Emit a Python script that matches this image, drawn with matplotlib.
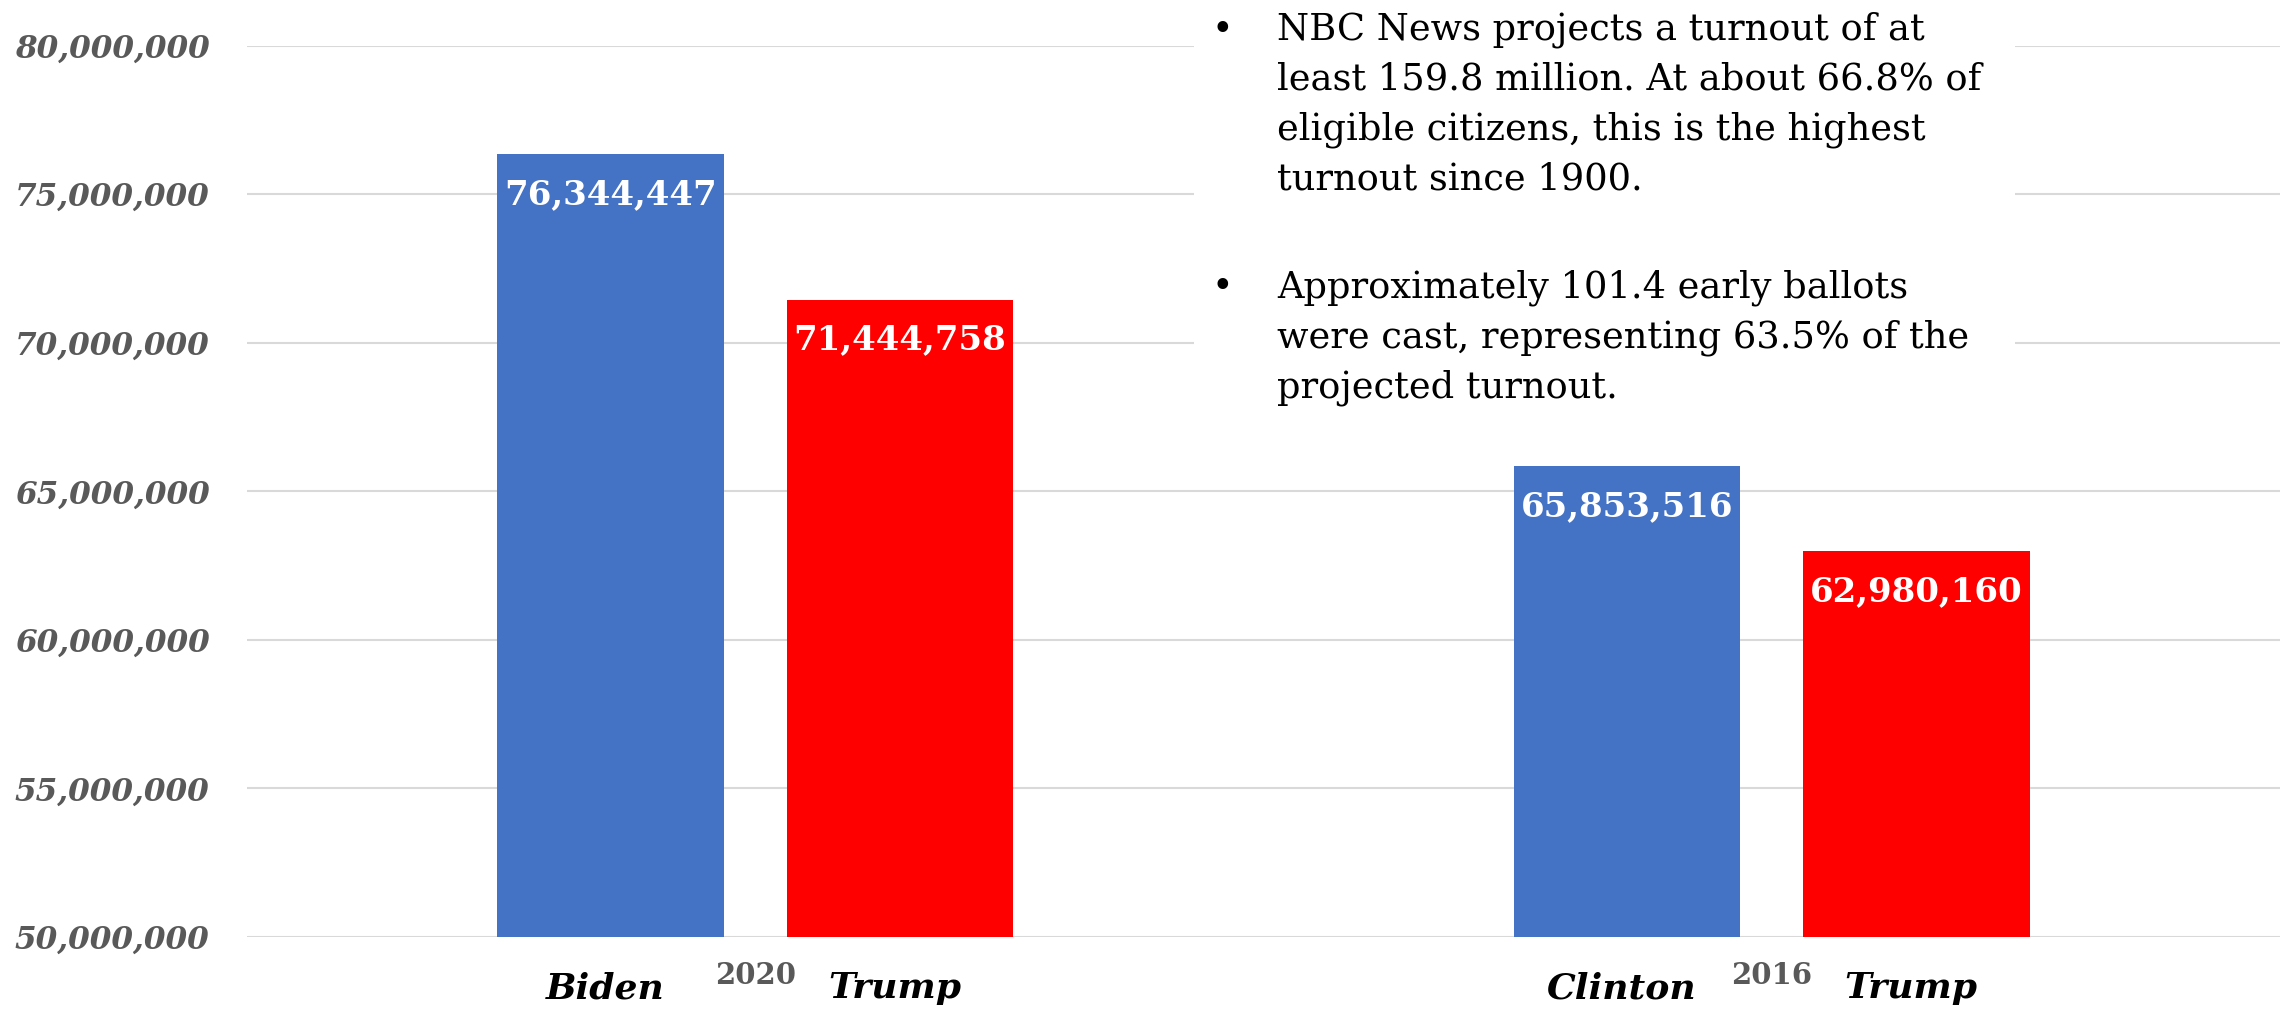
import matplotlib
matplotlib.use("Agg")
import matplotlib.pyplot as plt
from matplotlib.patches import Rectangle
from matplotlib.ticker import FuncFormatter

# ---- data ----
years = ["2020", "2016"]
dem_names = ["Biden", "Clinton"]
rep_names = ["Trump", "Trump"]
dem_votes = [76344447, 65853516]
rep_votes = [71444758, 62980160]
y_ticks = [50000000, 55000000, 60000000, 65000000, 70000000, 75000000, 80000000]
para1 = ["NBC News projects a turnout of at",
         "least 159.8 million. At about 66.8% of",
         "eligible citizens, this is the highest",
         "turnout since 1900."]
para2 = ["Approximately 101.4 early ballots",
         "were cast, representing 63.5% of the",
         "projected turnout."]

BLUE = "#4472C4"
RED = "#FF0000"
GRAY = "#595959"
FONT = "DejaVu Serif"

W, H = 2292, 1010
fig = plt.figure(figsize=(W / 100, H / 100), dpi=100)
ax = fig.add_axes([247 / W, (H - 937) / H, (2280 - 247) / W, (937 - 45.7) / H])

x = list(range(len(years)))
bw = 0.223
off = 0.1425
xd = [i - off for i in x]
xr = [i + off for i in x]
ax.bar(xd, dem_votes, width=bw, color=BLUE, zorder=3)
ax.bar(xr, rep_votes, width=bw, color=RED, zorder=3)

ax.set_xlim(-0.5, len(years) - 0.5)
ax.set_ylim(y_ticks[0], y_ticks[-1])
ax.set_yticks(y_ticks)
ax.yaxis.set_major_formatter(FuncFormatter(lambda v, p: f"{int(v):,}"))
ax.grid(axis="y", color="#D9D9D9", linewidth=1.5, zorder=0)
ax.set_axisbelow(True)
for s in ax.spines.values():
    s.set_visible(False)
ax.set_xticks([])
ax.tick_params(axis="y", length=0, pad=27)
for lab in ax.get_yticklabels():
    lab.set_fontfamily(FONT)
    lab.set_fontweight("bold")
    lab.set_fontstyle("italic")
    lab.set_fontsize(22.4)
    lab.set_color(GRAY)

# value labels inside bars
for xs, vals in ((xd, dem_votes), (xr, rep_votes)):
    for xi, v in zip(xs, vals):
        ax.annotate(f"{v:,}", xy=(xi, v), xytext=(0, -29), textcoords="offset points",
                    ha="center", va="center", color="white", fontsize=24.5,
                    fontweight="bold", family=FONT, zorder=5)

# category labels
for i in x:
    ax.annotate(dem_names[i], xy=(xd[i], 0), xycoords=("data", "axes fraction"),
                xytext=(-4, -37), textcoords="offset points", ha="center", va="center",
                fontsize=26, fontweight="bold", fontstyle="italic", family=FONT, color="black")
    ax.annotate(rep_names[i], xy=(xr[i], 0), xycoords=("data", "axes fraction"),
                xytext=(-4, -37), textcoords="offset points", ha="center", va="center",
                fontsize=26, fontweight="bold", fontstyle="italic", family=FONT, color="black")
    ax.annotate(years[i], xy=(i, 0), xycoords=("data", "axes fraction"),
                xytext=(0, -28), textcoords="offset points", ha="center", va="center",
                fontsize=21, fontweight="bold", family=FONT, color=GRAY)

# text box (white background hiding gridlines)
fig.patches.append(Rectangle((1194 / W, (H - 440) / H), (2015 - 1194) / W, 440 / H,
                             transform=fig.transFigure, facecolor="white",
                             edgecolor="none", zorder=2))
line_h = 50
for start, lines in ((40, para1), (297, para2)):
    fig.text(1222 / W, (H - start) / H, "•", ha="center", va="baseline",
             fontsize=26.5, family=FONT, color="black", zorder=4)
    for k, ln in enumerate(lines):
        fig.text(1277 / W, (H - start - k * line_h) / H, ln, ha="left", va="baseline",
                 fontsize=26.5, family=FONT, color="black", zorder=4)

fig.savefig("out.png", dpi=100, facecolor="white")
